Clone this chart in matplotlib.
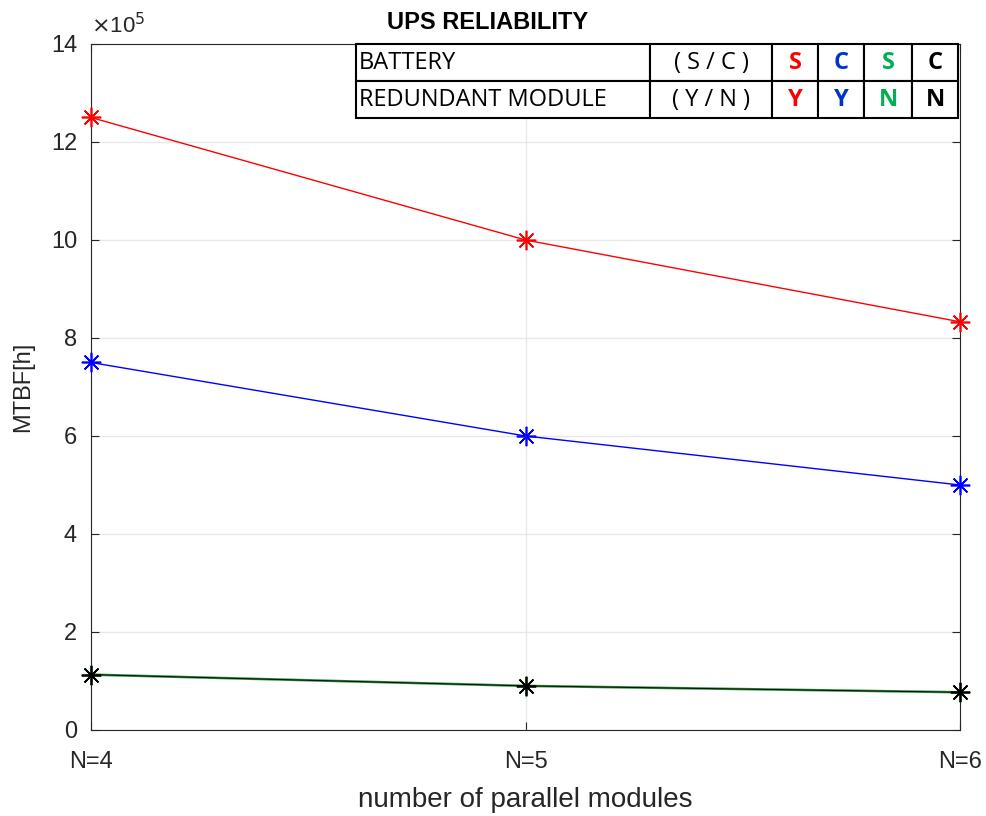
import matplotlib
matplotlib.use("Agg")
import matplotlib.pyplot as plt
from matplotlib.ticker import FuncFormatter

# data (MTBF in hours)
modules = [4, 5, 6]
tick_labels = ["N=4", "N=5", "N=6"]
mtbf_sy = [12.5e5, 10.0e5, 8.33e5]   # S battery, redundant
mtbf_cy = [7.5e5, 6.0e5, 5.0e5]      # C battery, redundant
mtbf_sn = [1.13e5, 0.90e5, 0.77e5]   # S battery, no redundant
mtbf_cn = [1.13e5, 0.90e5, 0.77e5]   # C battery, no redundant

table_rows = [["BATTERY", "( S / C )", "S", "C", "S", "C"],
              ["REDUNDANT MODULE", "( Y / N )", "Y", "Y", "N", "N"]]
series_colors = ["#ff0000", "#0000ff", "#2e8b3a", "#000000"]
text_colors = ["#ff0000", "#0033cc", "#00b050", "#000000"]

plt.rcParams["font.family"] = ["Liberation Sans", "DejaVu Sans"]

fig = plt.figure(figsize=(9.87, 8.16), dpi=100)
ax = fig.add_axes([0.0922, 0.1054, 0.8805, 0.8407])

star = (8, 2, 0)
ax.plot(modules, mtbf_sy, color=series_colors[0], lw=1, marker=star, ms=14, mew=1.2, zorder=3, clip_on=False)
ax.plot(modules, mtbf_cy, color=series_colors[1], lw=1, marker=star, ms=14, mew=1.2, zorder=3, clip_on=False)
ax.plot(modules, mtbf_sn, color=series_colors[2], lw=1.8, marker=star, ms=14, mew=1.2, zorder=3, clip_on=False)
ax.plot(modules, mtbf_cn, color=series_colors[3], lw=0.6, marker=star, ms=14, mew=1.2, zorder=4, clip_on=False)

ax.set_xlim(4, 6)
ax.set_ylim(0, 14e5)
ax.set_xticks(modules)
ax.set_xticklabels(tick_labels)
ax.set_yticks([i * 2e5 for i in range(8)])
ax.yaxis.set_major_formatter(FuncFormatter(lambda v, p: "%g" % (v / 1e5)))
ax.text(0, 1.008, r"$\times$10$^5$", transform=ax.transAxes, fontsize=16, color="#262626",
        ha="left", va="bottom")

ax.grid(True, color="#e8e8e8", lw=1)
ax.set_axisbelow(True)
ax.tick_params(direction="in", length=6, labelsize=17, colors="#262626", top=True, right=True)
ax.tick_params(axis="x", pad=15)
ax.tick_params(axis="y", pad=10)
for s in ax.spines.values():
    s.set_color("#262626")
    s.set_linewidth(0.8)

ax.set_xlabel("number of parallel modules", fontsize=20, color="#262626", labelpad=10)
ax.set_ylabel("MTBF[h]", fontsize=17, color="#262626", labelpad=12)
ax.set_title("UPS RELIABILITY", fontsize=17, fontweight="bold", x=0.456, pad=11)

# legend table
col_w = [294, 122, 46, 46, 48, 46]
tot = float(sum(col_w))
tab = ax.table(cellText=table_rows, colWidths=[w / tot for w in col_w],
               bbox=[0.305, 0.892, 0.6927, 0.108], cellLoc="center")
tab.auto_set_font_size(False)
for (r, c), cell in tab.get_celld().items():
    cell.set_linewidth(1.5)
    cell.set_edgecolor("black")
    cell.set_facecolor("white")
    t = cell.get_text()
    t.set_fontsize(17)
    t.set_fontfamily(["Open Sans", "DejaVu Sans"])
    if c == 0:
        t.set_ha("left")
        cell.PAD = 0.01
    if c >= 2:
        t.set_color(text_colors[c - 2])
        t.set_fontweight("bold")
tab.set_zorder(5)

fig.savefig("out.png", dpi=100)
